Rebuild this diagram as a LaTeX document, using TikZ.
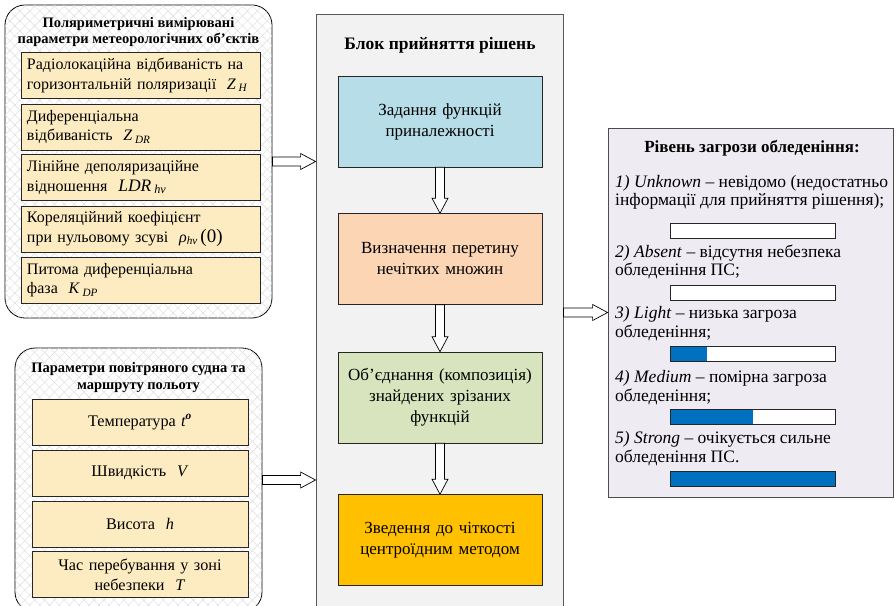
\documentclass[tikz,border=0pt]{standalone}
\usepackage{fontspec}
\setmainfont{LiberationSerif}[Extension=.ttf,UprightFont=*-Regular,BoldFont=*-Bold,ItalicFont=*-Italic,BoldItalicFont=*-BoldItalic]
\usetikzlibrary{calc,patterns.meta}
\definecolor{cream}{RGB}{253,236,193}
\definecolor{cblue}{RGB}{183,222,232}
\definecolor{cpeach}{RGB}{252,213,181}
\definecolor{cgreen}{RGB}{215,228,189}
\definecolor{corange}{RGB}{255,192,0}
\definecolor{cblock}{RGB}{242,242,242}
\definecolor{clav}{RGB}{238,235,242}
\definecolor{barblue}{RGB}{0,112,192}
\newcommand\varsub[2]{\textit{#1}\,\textsubscript{\textit{#2}}}
\begin{document}
\begin{tikzpicture}[x=1pt,y=-1pt,
  hatch/.style={pattern={Lines[angle=#1,distance=7pt,line width=0.4pt]},pattern color=gray!28},
  panel/.style={draw=black,line width=0.8pt,rounded corners=20pt,fill=white,
    postaction={hatch=45},postaction={hatch=-45},inner sep=0pt},
  ptitle/.style={align=center,font=\bfseries\fontsize{14.5}{16.5}\selectfont,inner sep=0pt},
  lbox/.style={draw=black!85,line width=0.6pt,fill=cream,minimum width=239pt,minimum height=46pt,
    text width=227pt,align=left,inner xsep=6pt,font=\fontsize{16}{19.5}\selectfont},
  cbox/.style={draw=black!85,line width=0.6pt,fill=cream,minimum width=216pt,minimum height=46pt,
    text width=206pt,align=center,font=\fontsize{16.2}{20}\selectfont},
  block/.style={draw=black!65,line width=0.8pt,fill=cblock,inner sep=0pt},
  fbox/.style={draw=black!85,line width=0.6pt,minimum width=204pt,minimum height=91pt,
    text width=194pt,align=center,font=\fontsize{17}{21}\selectfont},
  rpanel/.style={draw=black!70,line width=0.8pt,fill=clav,inner sep=0pt},
  rline/.style={anchor=base west,inner sep=0pt,font=\fontsize{17.5}{19}\selectfont},
  bar/.style={draw=black!85,line width=0.6pt,fill=white,minimum width=165pt,minimum height=15pt,inner sep=0pt,
    path picture={\fill[barblue] (path picture bounding box.south west) rectangle
      ($(path picture bounding box.north west)!#1!(path picture bounding box.north east)$);}},
  barrow/.style={draw=black,line width=0.7pt,fill=white,to path={
    let \p1=(\tikztostart), \p2=(\tikztotarget), \p3=($(\p2)!15pt!(\p1)$) in
    ($(\p1)!4.5pt!90:(\p2)$) -- ($(\p3)!4.5pt!90:(\p2)$) -- ($(\p3)!8pt!90:(\p2)$) -- (\p2)
    -- ($(\p3)!8pt!-90:(\p2)$) -- ($(\p3)!4.5pt!-90:(\p2)$) -- ($(\p1)!4.5pt!-90:(\p2)$) -- cycle}}
]
\useasboundingbox (0,0) rectangle (896,605);

% ---- left top panel
\node[panel,minimum width=267pt,minimum height=313pt] (p1) at (138.5,161.5) {};
\node[ptitle] (p1t) at (138.5,32) {Поляриметричні вимірювані\\параметри метеорологічних об'єктів};
\node[lbox] (z1) at (140.5,75.5) {Радіолокаційна відбиваність на\\горизонтальній поляризації~ \varsub{Z}{H}};
\node[lbox] (z2) at (140.5,127) {Диференціальна\\відбиваність~ \varsub{Z}{DR}};
\node[lbox] (z3) at (140.5,177.5) {Лінійне деполяризаційне\\відношення~ {\fontsize{17.5}{19}\selectfont\varsub{LDR}{hv}}};
\node[lbox] (z4) at (140.5,229) {Кореляційний коефіцієнт\\при нульовому зсуві~ \textit{ρ}\textsubscript{\textit{hv}}\,{\fontsize{19}{19}\selectfont(0)}};
\node[lbox] (z5) at (140.5,280) {Питома диференціальна\\фаза~ \varsub{K}{DP}};

% ---- left bottom panel
\node[panel,minimum width=247pt,minimum height=264pt] (p2) at (138.5,480) {};
\node[ptitle] (p2t) at (138.5,377.5) {Параметри повітряного судна та\\маршруту польоту};
\node[cbox] (c1) at (140,422) {Температура \textit{t\textsuperscript{\textbf{o}}}};
\node[cbox] (c2) at (140,473) {Швидкість~ \textit{V}};
\node[cbox] (c3) at (140,524) {Висота~ \textit{h}};
\node[cbox] (c4) at (140,574.5) {Час перебування у зоні\\небезпеки~ \textit{T}};

% ---- central block
\node[block,minimum width=247pt,minimum height=606pt] (blk) at (439.5,317) {};
\node[font=\bfseries\fontsize{17.5}{20}\selectfont,inner sep=0pt] (blkt) at (440,45) {Блок прийняття рішень};
\node[fbox,fill=cblue] (fa) at (440,121.5) {Задання функцій\\приналежності};
\node[fbox,fill=cpeach] (fb) at (440,259) {Визначення перетину\\нечітких множин};
\node[fbox,fill=cgreen] (fc) at (440,397.5) {Об'єднання (композиція)\\знайдених зрізаних\\функцій};
\node[fbox,fill=corange] (fd) at (440,540) {Зведення до чіткості\\центроїдним методом};

% ---- right panel
\node[rpanel,minimum width=285pt,minimum height=369pt] (rp) at (750.5,312.5) {};
\node[font=\bfseries\fontsize{17}{19}\selectfont,inner sep=0pt] (rpt) at (752,148) {Рівень загрози обледеніння:};
\node[rline] (r1a) at (615,187) {\textit{1) Unknown} – невідомо (недостатньо};
\node[rline] (r1b) at (615,205) {інформації для прийняття рішення);};
\node[bar=0] (b1) at (752.5,231) {};
\node[rline] (r2a) at (615,257) {\textit{2) Absent} – відсутня небезпека};
\node[rline] (r2b) at (615,275) {обледеніння ПС;};
\node[bar=0] (b2) at (752.5,292.5) {};
\node[rline] (r3a) at (615,318) {\textit{3) Light} – низька загроза};
\node[rline] (r3b) at (615,337) {обледеніння;};
\node[bar=0.224] (b3) at (752.5,353.5) {};
\node[rline] (r4a) at (615,382) {\textit{4) Medium} – помірна загроза};
\node[rline] (r4b) at (615,401) {обледеніння;};
\node[bar=0.503] (b4) at (752.5,417) {};
\node[rline] (r5a) at (615,443) {\textit{5) Strong} – очікується сильне};
\node[rline] (r5b) at (615,462) {обледеніння ПС.};
\node[bar=1] (b5) at (752.5,478.5) {};

% ---- block arrows
\draw[barrow] (p1.east) to (p1.east -| blk.west);
\draw[barrow] (p2.east) to (p2.east -| blk.west);
\draw[barrow] (rp.west -| blk.east) to (rp.west);
\draw[barrow] (fa.south) to (fb.north);
\draw[barrow] (fb.south) to (fc.north);
\draw[barrow] (fc.south) to (fd.north);
\end{tikzpicture}
\end{document}
